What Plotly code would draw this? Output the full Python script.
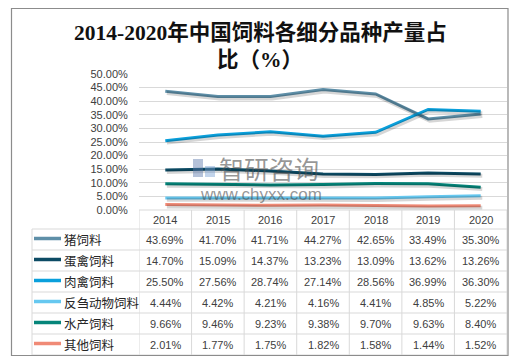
import plotly.graph_objects as go

years = ["2014", "2015", "2016", "2017", "2018", "2019", "2020"]
series_names = ["猪饲料", "蛋禽饲料", "肉禽饲料", "反刍动物饲料", "水产饲料", "其他饲料"]
pig = [43.69, 41.70, 41.71, 44.27, 42.65, 33.49, 35.30]
layer = [14.70, 15.09, 14.37, 13.23, 13.09, 13.62, 13.26]
broiler = [25.50, 27.56, 28.74, 27.14, 28.56, 36.99, 36.30]
ruminant = [4.44, 4.42, 4.21, 4.16, 4.41, 4.85, 5.22]
aqua = [9.66, 9.46, 9.23, 9.38, 9.70, 9.63, 8.40]
other = [2.01, 1.77, 1.75, 1.82, 1.58, 1.44, 1.52]
series_values = [pig, layer, broiler, ruminant, aqua, other]
colors = ["#5e8fa8", "#0c4b64", "#0aa0dc", "#66c8f0", "#05857a", "#f08a76"]
y_ticks = [0, 5, 10, 15, 20, 25, 30, 35, 40, 45, 50]
y_tick_labels = ["%.2f%%" % v for v in y_ticks]

W, H = 522, 362
L, R, T, B = 139, 507, 74, 210
pw, ph = R - L, B - T

def px(x):
    return (x - L) / pw

def py(y):
    return (B - y) / ph

fig = go.Figure()
# shadows
for name, vals in zip(series_names, series_values):
    fig.add_trace(go.Scatter(x=years, y=vals, mode="lines", xaxis="x2", yaxis="y2",
                             line=dict(color="rgba(0,0,0,0.16)", width=4),
                             hoverinfo="skip", showlegend=False))
for name, vals, c in zip(series_names, series_values, colors):
    fig.add_trace(go.Scatter(x=years, y=vals, mode="lines", name=name,
                             line=dict(color=c, width=3), showlegend=False))

font_num = "Liberation Sans, Noto Sans CJK SC"
txt = "#404040"
grid = "#d9d9d9"
shapes = []
annotations = []

def ann(x, y, text, font, xref="paper", xanchor="center"):
    annotations.append(dict(x=x, y=y, xref=xref, yref="paper", text=text, showarrow=False,
                            xanchor=xanchor, yanchor="middle", font=font))

# table horizontal lines
row_lines = [210, 229, 250, 271, 292, 313, 334, 355]
for i, yl in enumerate(row_lines):
    x0 = L if i == 0 else 32
    shapes.append(dict(type="line", xref="paper", yref="paper", x0=px(x0), x1=1,
                       y0=py(yl), y1=py(yl), line=dict(color=grid, width=1)))
# vertical lines
for k in range(8):
    shapes.append(dict(type="line", xref="x", yref="paper", x0=k - 0.5, x1=k - 0.5,
                       y0=py(210), y1=py(355), line=dict(color=grid, width=1)))
shapes.append(dict(type="line", xref="paper", yref="paper", x0=px(32), x1=px(32),
                   y0=py(229), y1=py(355), line=dict(color=grid, width=1)))
# outer border
shapes.append(dict(type="rect", xref="paper", yref="paper", x0=px(11.5), x1=px(508),
                   y0=py(8.5), y1=py(355.5), line=dict(color="#8c8c8c", width=1.2)))

num_font = dict(size=11, color=txt, family=font_num)
# header
for i, yr in enumerate(years):
    ann(i, py(219.5), yr, num_font, xref="x")
row_centers = [239.5, 260.5, 281.5, 302.5, 323.5, 344.5]
for name, vals, c, yc in zip(series_names, series_values, colors, row_centers):
    shapes.append(dict(type="line", xref="paper", yref="paper", x0=px(34), x1=px(61),
                       y0=py(yc - 1), y1=py(yc - 1), line=dict(color=c, width=3.5)))
    ann(px(62), py(yc), name, dict(size=12.5, color="#262626", family="Noto Sans CJK SC"),
        xanchor="left")
    for i, v in enumerate(vals):
        ann(i, py(yc), "%.2f%%" % v, num_font, xref="x")

# title
title_font = dict(size=21.5, color="#111111", family="Liberation Serif, Noto Sans CJK SC")
ann(px(260), py(33), "<b>2014-2020年中国饲料各细分品种产量占</b>", title_font)
ann(px(260), py(60), "<b>比（%）</b>", title_font)

# watermark
shapes.append(dict(type="rect", xref="paper", yref="paper", x0=px(193), x1=px(203),
                   y0=py(177), y1=py(159), line=dict(width=0),
                   fillcolor="rgba(90,120,170,0.45)", layer="above"))
shapes.append(dict(type="rect", xref="paper", yref="paper", x0=px(205), x1=px(215),
                   y0=py(177), y1=py(166), line=dict(width=0),
                   fillcolor="rgba(120,160,210,0.45)", layer="above"))
ann(px(217), py(168), "智研咨询",
    dict(size=25, color="rgba(80,80,80,0.6)", family="Noto Sans CJK SC"), xanchor="left")
ann(px(261), py(194), "www.chyxx.com",
    dict(size=17, color="rgba(80,80,80,0.6)", family="Liberation Sans"))

fig.update_layout(
    width=W, height=H,
    margin=dict(l=L, r=W - R, t=T, b=H - B),
    paper_bgcolor="white", plot_bgcolor="white",
    xaxis=dict(type="category", range=[-0.5, 6.5], showticklabels=False, showgrid=False,
               zeroline=False, showline=False, fixedrange=True),
    xaxis2=dict(type="category", range=[-0.53, 6.47], overlaying="x", visible=False),
    yaxis=dict(range=[0, 50], tickvals=y_ticks, ticktext=y_tick_labels, showgrid=True,
               gridcolor=grid, gridwidth=1, zeroline=False, showline=False,
               ticks="outside", ticklen=8, tickcolor="rgba(0,0,0,0)",
               tickfont=dict(size=11, color=txt, family=font_num)),
    yaxis2=dict(range=[0.7, 50.7], overlaying="y", visible=False),
    shapes=shapes, annotations=annotations,
)
fig.write_html("out.html", config={"displayModeBar": False},
               post_script="document.body.style.margin='0';")
